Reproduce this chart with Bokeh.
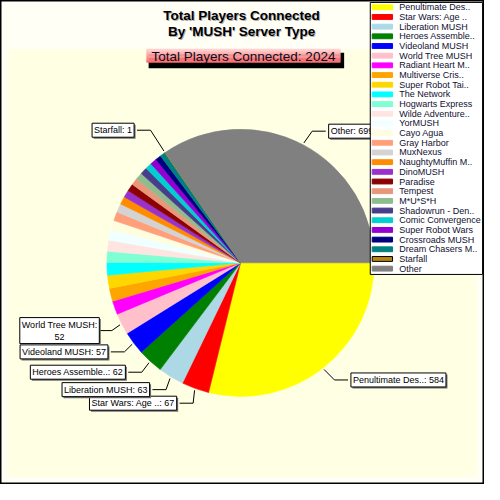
import math
from bokeh.plotting import figure
from bokeh.models import Range1d, Label, ColumnDataSource
from bokeh.core.properties import value
from bokeh.embed import file_html
from bokeh.resources import INLINE

# ---------------- data ----------------
servers = [
    "Penultimate Des..", "Star Wars: Age ..", "Liberation MUSH", "Heroes Assemble..",
    "Videoland MUSH", "World Tree MUSH", "Radiant Heart M..", "Multiverse Cris..",
    "Super Robot Tai..", "The Network", "Hogwarts Express", "Wilde Adventure..",
    "YorMUSH", "Cayo Agua", "Gray Harbor", "MuxNexus", "NaughtyMuffin M..",
    "DinoMUSH", "Paradise", "Tempest", "M*U*S*H", "Shadowrun - Den..",
    "Comic Convergence", "Super Robot Wars", "Crossroads MUSH", "Dream Chasers M..",
    "Starfall", "Other",
]
players = [
    584, 67, 63, 62,
    57, 52, 33, 32,
    32, 31, 27, 27,
    25, 24, 22, 21, 19,
    18, 18, 17, 17, 17,
    16, 16, 14, 13,
    1, 699,
]
slice_colors = [
    "#FFFF00", "#FF0000", "#ADD8E6", "#008000",
    "#0000FF", "#FFC0CB", "#FF00FF", "#FFA500",
    "#FFD700", "#00FFFF", "#7FFFD4", "#FFE4E1",
    "#F0FFFF", "#FFFDE0", "#FFA07A", "#D3D3D3", "#FF8C00",
    "#9932CC", "#8B0000", "#E9967A", "#8FBC8F", "#483D8B",
    "#00CED1", "#9400D3", "#000080", "#008080",
    "#B8860B", "#808080",
]
labelled = [0, 1, 2, 3, 4, 5, 26, 27]
title_lines = ["Total Players Connected", "By 'MUSH' Server Type"]
subtitle = "Total Players Connected: " + str(sum(players))

# ---------------- layout (reference pixel space, y down) ----------------
W = 500
SIDE = 484
CX, CY, R = 248, 271, 138
FONT = "Liberation Sans"
# label layout: index -> (side, elbow_x, elbow_y, wrap)
label_layout = {
    0: ("right", 345, 392, False),
    1: ("left", 199, 416, False),
    2: ("left", 171, 402, False),
    3: ("left", 146, 384, False),
    4: ("left", 128, 363, False),
    5: ("left", 115, 341, True),
    26: ("left", 155, 134, False),
    27: ("right", 322, 135, False),
}
GAP = 14


def Y(sy):
    return W - sy


p = figure(width=SIDE, height=SIDE, x_range=Range1d(0, W), y_range=Range1d(0, W),
           x_axis_type=None, y_axis_type=None, toolbar_location=None,
           output_backend="svg", min_border=0)
p.grid.visible = False
p.background_fill_color = "#FFFFF6"
p.border_fill_color = "#FFFFF6"
p.outline_line_color = "black"
p.outline_line_width = 2

# inner area
p.quad(left=[8], right=[492], top=[Y(50)], bottom=[Y(492)], fill_color="#FFFFE3", line_color=None)

# ---------------- title ----------------
for i, t in enumerate(title_lines):
    sy = 16 + 16 * i
    p.text(x=[250], y=[Y(sy) - 1], text=[t], text_font=value(FONT), text_font_size="13.5px",
           text_font_style="bold", text_align="center", text_baseline="middle", text_color="#B0B0B0")
    p.text(x=[249], y=[Y(sy)], text=[t], text_font=value(FONT), text_font_size="13.5px",
           text_font_style="bold", text_align="center", text_baseline="middle", text_color="black")

# subtitle box with shadow and gradient
p.quad(left=[153], right=[355], top=[Y(54)], bottom=[Y(70)], fill_color="black", line_color=None)
n_str = 10
top_c = (255, 212, 212)
bot_c = (255, 112, 112)
bl, br, bt, bb = 151, 351, 50, 64
lefts, rights, tops, bottoms, cols = [], [], [], [], []
for k in range(n_str):
    f = k / (n_str - 1)
    c = tuple(int(top_c[j] + (bot_c[j] - top_c[j]) * f) for j in range(3))
    lefts.append(bl); rights.append(br)
    tops.append(Y(bt + (bb - bt) * k / n_str)); bottoms.append(Y(bt + (bb - bt) * (k + 1) / n_str))
    cols.append("#%02X%02X%02X" % c)
p.quad(left=lefts, right=rights, top=tops, bottom=bottoms, fill_color=cols, line_color=cols, line_width=0.5)
p.text(x=[251], y=[Y(57.5)], text=[subtitle], text_font=value(FONT), text_font_size="13.5px",
       text_align="center", text_baseline="middle", text_color="#0A0A20")

# ---------------- pie ----------------
total = sum(players)
starts, ends, mids = [], [], []
acc = 0
for v in players:
    a0 = acc / total * 2 * math.pi
    acc += v
    a1 = acc / total * 2 * math.pi
    starts.append(-a0)
    ends.append(-a1)
    mids.append((a0 + a1) / 2)
src = ColumnDataSource(dict(start=starts, end=ends, color=slice_colors, name=servers, v=players))
p.wedge(x=CX, y=Y(CY), radius=R, start_angle="start", end_angle="end", direction="clock",
        fill_color="color", line_color="color", line_width=0.6, source=src)

# ---------------- callouts ----------------
xs, ys = [], []
for idx in labelled:
    side, ex, ey, wrap = label_layout[idx]
    a = mids[idx]
    rx = CX + (R + 2) * math.cos(a)
    ry = CY + (R + 2) * math.sin(a)
    bx = ex + GAP if side == "right" else ex - GAP
    xs.append([rx, ex, bx])
    ys.append([Y(ry), Y(ey), Y(ey)])
p.multi_line(xs=xs, ys=ys, line_color="black", line_width=1)

for idx in labelled:
    side, ex, ey, wrap = label_layout[idx]
    if wrap:
        txt = f"{servers[idx]}:\n{players[idx]}"
    else:
        txt = f"{servers[idx]}: {players[idx]}"
    pad = 2
    if side == "right":
        tx, align = ex + GAP + pad + 1, "left"
    else:
        tx, align = ex - GAP - pad - 1, "right"
    if wrap:
        tx, align = (ex - GAP) - 40, "center"
    common = dict(x=tx, y=Y(ey), text=txt, text_font=FONT, text_font_size="9px",
                  text_align=align, text_baseline="middle", padding=pad)
    p.add_layout(Label(x_offset=1.5, y_offset=-1.5, text_color="#707070",
                       background_fill_color="#707070", **common))
    p.add_layout(Label(text_color="black", background_fill_color="white",
                       border_line_color="black", border_line_width=1, **common))

# ---------------- legend ----------------
p.quad(left=[382], right=[498], top=[Y(2)], bottom=[Y(283)], fill_color="white",
       line_color="black", line_width=1, level="overlay")
row_y = [7 + 10 * i for i in range(len(servers))]
sw_line = ["black" if n == "Starfall" else c for n, c in zip(servers, slice_colors)]
lsrc = ColumnDataSource(dict(
    left=[384] * len(servers), right=[405] * len(servers),
    top=[Y(y - 2.5) for y in row_y], bottom=[Y(y + 2.5) for y in row_y],
    color=slice_colors, lc=sw_line, ty=[Y(y) for y in row_y], tx=[412] * len(servers), name=servers,
))
p.quad(left="left", right="right", top="top", bottom="bottom", fill_color="color",
       line_color="lc", line_width=1, source=lsrc, level="overlay")
p.text(x="tx", y="ty", text="name", text_font=value(FONT), text_font_size="9px",
       text_baseline="middle", text_align="left", text_color="#101030", source=lsrc, level="overlay")

open("out.html", "w").write(file_html(p, INLINE))
